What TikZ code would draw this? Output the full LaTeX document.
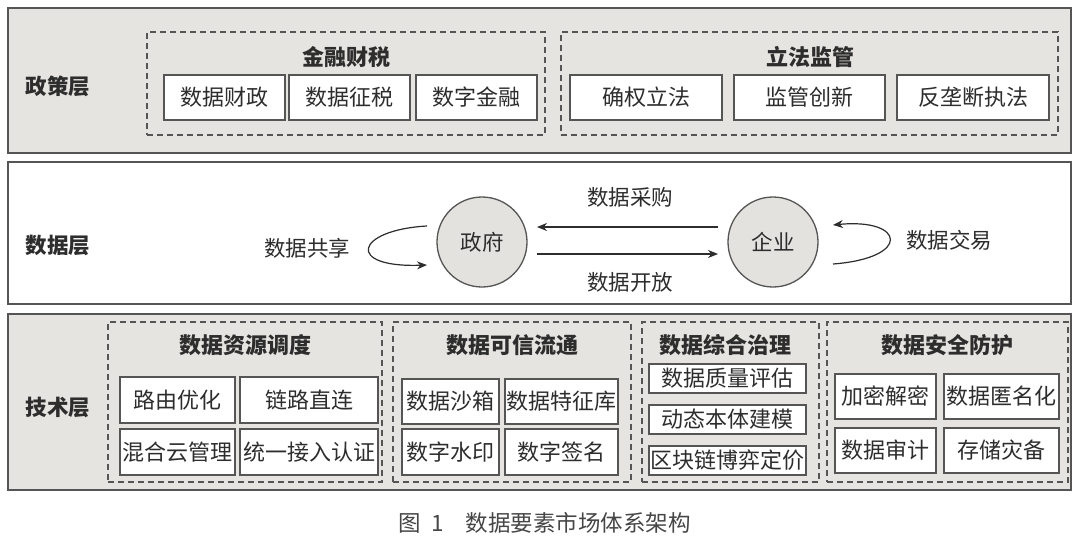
\documentclass[tikz,border=0pt]{standalone}
\usepackage{fontspec}
\setmainfont{Noto Sans CJK SC}
\usetikzlibrary{arrows.meta,calc}
\definecolor{panelgray}{RGB}{230,228,225}
\definecolor{circgray}{RGB}{228,226,223}
\definecolor{linegray}{RGB}{85,85,85}
\definecolor{txt}{RGB}{45,45,45}
\definecolor{captxt}{RGB}{70,70,70}
\newcommand\mk[7][cell]{\node[#1,minimum width={(#5-#3)*1pt},minimum height={(#6-#4)*1pt}] (#2) at ({(#3+#5)/2},{(#4+#6)/2}) {#7};}
\tikzset{
  panel/.style={draw=linegray, line width=1.5pt, inner sep=0pt},
  cell/.style={draw=linegray, fill=white, line width=1.3pt, inner sep=0pt, font=\fontsize{22}{26}\selectfont, text=txt},
  grp/.style={draw=linegray, dash pattern=on 6pt off 4pt, line width=1.1pt, inner sep=0pt},
  grptitle/.style={font=\fontsize{22}{26}\selectfont\bfseries, text=txt, inner sep=0pt},
  layerlbl/.style={font=\fontsize{21.5}{26}\selectfont\bfseries, text=txt, inner sep=0pt},
  circ/.style={circle, draw=linegray, fill=circgray, line width=1.3pt, minimum size=90pt, inner sep=0pt, font=\fontsize{21.5}{26}\selectfont, text=txt},
  arr/.style={draw=txt, line width=1.2pt, -{Stealth[length=10pt,width=8pt]}},
  lbl/.style={font=\fontsize{21.5}{26}\selectfont, text=txt, inner sep=0pt}
}
\begin{document}
\begin{tikzpicture}[x=1pt,y=-1pt]
\useasboundingbox (0,0) rectangle (1080,536);
% panels
\mk[panel,fill=panelgray]{ptop}{8}{8}{1071}{153}{}
\mk[panel,fill=white]{pmid}{8}{162}{1071}{304}{}
\mk[panel,fill=panelgray]{pbot}{8}{314}{1071}{490}{}
\node[layerlbl] (l1) at (58,86) {政策层};
\node[layerlbl] (l2) at (58,245) {数据层};
\node[layerlbl] (l3) at (58,407) {技术层};
% policy layer
\mk[grp]{g1}{147}{32}{545}{135}{}
\node[grptitle] (t1) at (346,57) {金融财税};
\mk{b11}{164}{75}{285}{120}{数据财政}
\mk{b12}{289}{75}{410}{120}{数据征税}
\mk{b13}{416}{75}{537}{120}{数字金融}
\mk[grp]{g2}{561}{32}{1058}{135}{}
\node[grptitle] (t2) at (810,57) {立法监管};
\mk{b21}{570}{75}{722}{120}{确权立法}
\mk{b22}{734}{75}{885}{120}{监管创新}
\mk{b23}{897}{75}{1049}{120}{反垄断执法}
% data layer
\node[circ] (gov) at (482,242) {政府};
\node[circ] (ent) at (773,242) {企业};
\coordinate (pa) at (718,227);
\coordinate (pb) at (537,227);
\coordinate (pc) at (537,254);
\coordinate (pd) at (718,254);
\draw[arr] (pa) -- (pb);
\draw[arr] (pc) -- (pd);
\node[lbl] (m1) at (630,197) {数据采购};
\node[lbl] (m2) at (630,282) {数据开放};
\coordinate (gs) at (427,226);
\coordinate (ge) at (427,265);
\draw[arr] (gs) .. controls (355,230) and (345,268) .. (ge);
\node[lbl] (m3) at (307,248) {数据共享};
\coordinate (es) at (833,264);
\coordinate (ee) at (833,225);
\draw[arr] (es) .. controls (912,258) and (905,218) .. (ee);
\node[lbl] (m4) at (949,240) {数据交易};
% technology layer
\mk[grp]{gA}{108}{322}{382}{482}{}
\node[grptitle] (tA) at (245,345) {数据资源调度};
\mk{a1}{120}{377}{235}{423}{路由优化}
\mk{a2}{240}{377}{378}{423}{链路直连}
\mk{a3}{120}{429}{235}{475}{混合云管理}
\mk{a4}{240}{429}{378}{475}{统一接入认证}
\mk[grp]{gB}{393}{322}{631}{482}{}
\node[grptitle] (tB) at (512,345) {数据可信流通};
\mk{c1}{402}{379}{499}{424}{数据沙箱}
\mk{c2}{505}{379}{618}{424}{数据特征库}
\mk{c3}{402}{429}{499}{475}{数字水印}
\mk{c4}{505}{429}{618}{475}{数字签名}
\mk[grp]{gC}{642}{322}{819}{482}{}
\node[grptitle] (tC) at (725,345) {数据综合治理};
\mk{d1}{649}{364}{806}{393}{数据质量评估}
\mk{d2}{649}{405}{806}{434}{动态本体建模}
\mk{d3}{649}{446}{806}{475}{区块链博弈定价}
\mk[grp]{gD}{827}{322}{1068}{482}{}
\node[grptitle] (tD) at (947,345) {数据安全防护};
\mk{e1}{835}{374}{936}{419}{加密解密}
\mk{e2}{944}{374}{1059}{419}{数据匿名化}
\mk{e3}{835}{428}{936}{473}{数据审计}
\mk{e4}{944}{428}{1059}{473}{存储灾备}
% caption
\node[lbl, font=\fontsize{22.5}{26}\selectfont, text=captxt, anchor=west] (cap) at (398,523) {图\hspace{10.5pt}1\hspace{22pt}数据要素市场体系架构};
\end{tikzpicture}
\end{document}
